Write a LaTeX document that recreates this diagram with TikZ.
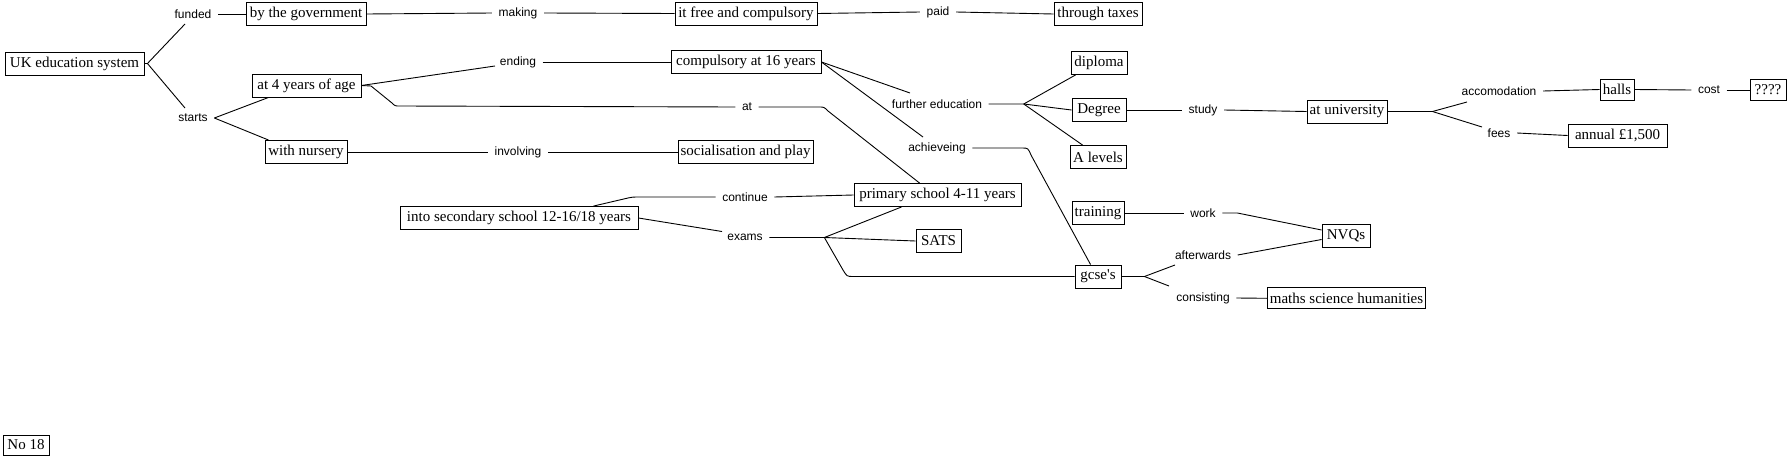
\documentclass[tikz,border=0pt]{standalone}
\usepackage{fontspec}
\newfontfamily\boxfont{Liberation Serif}
\newfontfamily\labfont{Liberation Sans}
\usetikzlibrary{calc}
\begin{document}
\begin{tikzpicture}[x=1pt,y=-1pt,
  bx/.style={draw, line width=0.9pt, font=\boxfont\fontsize{15}{18}\selectfont, inner xsep=2pt, inner ysep=0pt, minimum height=23pt},
  lb/.style={font=\labfont\fontsize{12}{14}\selectfont, inner xsep=6.5pt, inner ysep=3pt},
  ln/.style={line width=0.9pt}]
\fill[white] (0,0) rectangle (1789,458);
\useasboundingbox (0,0) rectangle (1789,458);
% boxes
\node[bx, minimum width=139pt] (uk) at (74.5,63.5) {UK education system};
\node[bx, minimum width=120pt] (govt) at (306,14) {by the government};
\node[bx, minimum width=142pt] (itfree) at (746,13.5) {it free and compulsory};
\node[bx, minimum width=88pt] (taxes) at (1098,14) {through taxes};
\node[bx, minimum width=109pt] (at4) at (306.5,85.5) {at 4 years of age};
\node[bx, minimum width=82pt] (nursery) at (306,152) {with nursery};
\node[bx, minimum width=150pt] (compulsory) at (746,62) {compulsory at 16 years};
\node[bx, minimum width=135pt] (social) at (745.5,152) {socialisation and play};
\node[bx, minimum width=56pt] (diploma) at (1099,63) {diploma};
\node[bx, minimum width=54pt] (degree) at (1099,110) {Degree};
\node[bx, minimum width=56pt] (alevels) at (1098,157) {A levels};
\node[bx, minimum width=52pt] (training) at (1098,213) {training};
\node[bx, minimum width=46pt] (gcse) at (1098,276.5) {gcse's};
\node[bx, minimum width=167pt] (primary) at (937.5,195) {primary school 4-11 years};
\node[bx, minimum width=238pt] (secondary) at (519,218) {into secondary school 12-16/18 years};
\node[bx, minimum width=45pt] (sats) at (938.5,241) {SATS};
\node[bx, minimum width=48pt] (nvqs) at (1346,235.5) {NVQs};
\node[bx, minimum width=157pt, minimum height=21pt] (maths) at (1346.5,298.3) {maths science humanities};
\node[bx, minimum width=80pt] (univ) at (1347,111.5) {at university};
\node[bx, minimum width=34pt, minimum height=21pt] (halls) at (1617,89.5) {halls};
\node[bx, minimum width=36pt, minimum height=21pt] (qq) at (1768,90) {????};
\node[bx, minimum width=99pt] (annual) at (1617.5,135.5) {annual \pounds1,500};
\node[bx, minimum width=46pt, minimum height=20pt] (no18) at (26,445) {No 18};
% labels
\node[lb] (funded) at (193,14) {funded};
\node[lb] (starts) at (193,118) {starts};
\node[lb] (making) at (518,13) {making};
\node[lb] (ending) at (518,62) {ending};
\node[lb] (at) at (747,107) {at};
\node[lb] (involving) at (518,152) {involving};
\node[lb] (continue) at (745,197) {continue};
\node[lb] (exams) at (745,237.5) {exams};
\node[lb] (paid) at (938,12) {paid};
\node[lb] (further) at (937,104) {further education};
\node[lb] (achieveing) at (937,148) {achieveing};
\node[lb] (study) at (1203,110) {study};
\node[lb] (work) at (1203,213) {work};
\node[lb] (afterwards) at (1203,255) {afterwards};
\node[lb] (consisting) at (1203,298) {consisting};
\node[lb] (accom) at (1499,91) {accomodation};
\node[lb] (fees) at (1499,133) {fees};
\node[lb] (cost) at (1709,90) {cost};
% connectors
\draw[ln] (uk.east) -- ++(3,0) coordinate (ukb) -- ($(funded.center)+(-8,10)$);
\draw[ln] (ukb) -- ($(starts.center)+(-8,-10)$);
\draw[ln] (funded.east) -- (govt.west);
\draw[ln] (govt.east) -- (making.west);
\draw[ln] (making.east) -- (itfree.west);
\draw[ln] (itfree.east) -- (paid.west);
\draw[ln] (paid.east) -- (taxes.west);
\draw[ln] (starts.east) -- ($(at4.south west)+(17,0)$);
\draw[ln] (starts.east) -- ($(nursery.north west)+(4,0)$);
\draw[ln] (at4.east) -- ($(ending.center)+(-23,4)$);
\draw[ln] (ending.east) -- (compulsory.west);
\draw[ln] (at4.east) -- (371,86) -- (392,103) .. controls (395,106) .. (400,106) -- (at.west);
\draw[ln] (at.east) -- (819,107) .. controls (824,107) .. (828,111) -- ($(primary.north west)+(66,0)$);
\draw[ln] (nursery.east) -- (involving.west);
\draw[ln] (involving.east) -- (social.west);
\draw[ln] (compulsory.east) -- ($(further.center)+(-27,-11)$);
\draw[ln] (compulsory.east) -- ($(achieveing.center)+(-14,-11)$);
\draw[ln] (further.east) -- ++(35,0) coordinate (feb) -- ($(diploma.south west)+(5,0)$);
\draw[ln] (feb) -- (degree.west);
\draw[ln] (feb) -- ($(alevels.north west)+(13,0)$);
\draw[ln] (degree.east) -- (study.west);
\draw[ln] (study.east) -- (univ.west);
\draw[ln] (univ.east) -- ++(45,0) coordinate (unb) -- ($(accom.center)+(-32,11)$);
\draw[ln] (unb) -- ($(fees.center)+(-17,-6)$);
\draw[ln] (accom.east) -- (halls.west);
\draw[ln] (halls.east) -- (cost.west);
\draw[ln] (cost.east) -- (qq.west);
\draw[ln] (fees.east) -- (annual.west);
\draw[ln] (achieveing.east) -- (1022,148) .. controls (1028,148) .. (1031,155) -- ($(gcse.north west)+(16,0)$);
\draw[ln] ($(secondary.north west)+(194,0)$) -- (628,198) .. controls (633,197) .. (640,197) -- (continue.west);
\draw[ln] (continue.east) -- (primary.west);
\draw[ln] (secondary.east) -- ($(exams.center)+(-23,-6)$);
\draw[ln] (exams.east) -- ++(55,0) coordinate (exb) -- ($(primary.south west)+(48,0)$);
\draw[ln] (exb) -- (sats.west);
\draw[ln] (exb) -- (843,270) .. controls (847,276.5) .. (853,276.5) -- (gcse.west);
\draw[ln] (training.east) -- (work.west);
\draw[ln] (work.east) -- ++(15,0) -- ($(nvqs.west)+(0,-5.5)$);
\draw[ln] (gcse.east) -- ++(23,0) coordinate (gcb) -- ($(afterwards.center)+(-28,10)$);
\draw[ln] (gcb) -- ($(consisting.center)+(-34,-12)$);
\draw[ln] (afterwards.east) -- ($(nvqs.west)+(0,4)$);
\draw[ln] (consisting.east) -- (maths.west);
\end{tikzpicture}
\end{document}
